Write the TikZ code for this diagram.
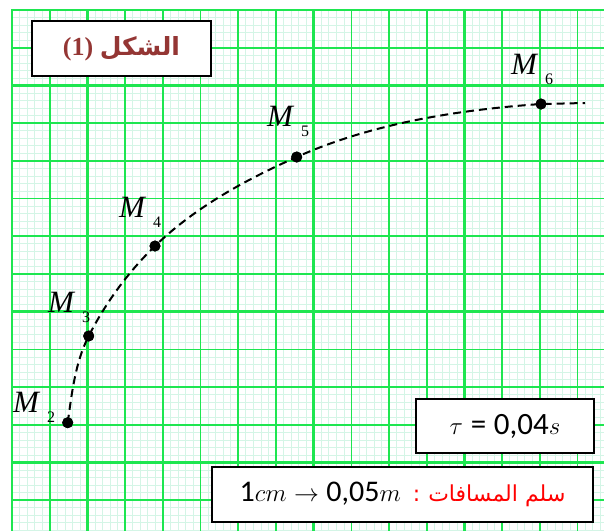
\documentclass[tikz,border=0pt]{standalone}
\usepackage{fontspec}
\setmainfont{Liberation Serif}
\newfontfamily\arabicfont[Script=Arabic]{DejaVu Sans}
\newfontfamily\digitfont{Carlito}
\TeXXeTstate=1
\usetikzlibrary{positioning}

\definecolor{gridmaj}{RGB}{30,230,80}
\definecolor{gridfine}{RGB}{212,245,230}
\definecolor{titlered}{RGB}{148,54,52}

\begin{document}
\begin{tikzpicture}[
  x=1pt, y=-1pt,
  fine/.style={gridfine, line width=0.5pt},
  half/.style={gridmaj, line width=1.6pt},
  full/.style={gridmaj, line width=2.4pt},
  dot/.style={circle, fill=black, inner sep=0pt, minimum size=11pt},
  mlbl/.style={anchor=base west, inner sep=0pt, font=\fontsize{31}{31}\selectfont\itshape},
  txtbox/.style={draw, fill=white, line width=1.5pt, minimum height=55pt, inner sep=0pt},
  traj/.style={line width=2pt, dash pattern=on 8pt off 5pt}
]
\useasboundingbox (0,0) rectangle (604,531);

\begin{scope}
\clip (10.5,8.5) rectangle (604,531);
\foreach \k in {0,...,79} {
  \draw[fine] ({12+\k*7.54},9) -- ({12+\k*7.54},531);
  \draw[fine] (11,{10+\k*7.54}) -- (604,{10+\k*7.54});
}
\foreach \k in {1,3,...,15} {
  \draw[half] ({12+\k*37.7},9) -- ({12+\k*37.7},531);
  \draw[half] (11,{10+\k*37.7}) -- (604,{10+\k*37.7});
}
\foreach \k in {0,...,8} {
  \draw[full] ({12+\k*75.4},9) -- ({12+\k*75.4},531);
  \draw[full] (11,{10+\k*75.4}) -- (604,{10+\k*75.4});
}
\end{scope}

\node[dot] (m2) at (67.7,422.7) {};
\node[dot] (m3) at (88.7,336) {};
\node[dot] (m4) at (155,246) {};
\node[dot] (m5) at (296.7,157) {};
\node[dot] (m6) at (541,104) {};
\coordinate (tail) at (585,103);

\draw[traj] (m2.center) .. controls (71.9,393) and (75.1,362.7) .. (m3.center)
  .. controls (105.5,303) and (128.4,271.7) .. (m4.center)
  .. controls (195.3,207.1) and (245.5,179.8) .. (m5.center)
  .. controls (372.5,123.2) and (458.2,109.8) .. (m6.center) -- (tail);
\foreach \n in {m2,m3,m4,m5,m6} \fill (\n) circle (5.5pt);

\node[mlbl] (l2) at (13,412) {M\hspace{8pt}\raisebox{-10pt}{\upshape\fontsize{16}{16}\selectfont 2}};
\node[mlbl] (l3) at (48,312) {M\hspace{8pt}\raisebox{-10pt}{\upshape\fontsize{16}{16}\selectfont 3}};
\node[mlbl] (l4) at (119,217) {M\hspace{8pt}\raisebox{-10pt}{\upshape\fontsize{16}{16}\selectfont 4}};
\node[mlbl] (l5) at (267,126) {M\hspace{8pt}\raisebox{-10pt}{\upshape\fontsize{16}{16}\selectfont 5}};
\node[mlbl] (l6) at (511,74) {M\hspace{8pt}\raisebox{-10pt}{\upshape\fontsize{16}{16}\selectfont 6}};

\node[txtbox, minimum width=179pt] (title) at (121.5,48.5)
  {\color{titlered}\fontsize{26}{26}\selectfont\bfseries (1) {\arabicfont\bfseries\fontsize{25}{25}\selectfont\beginR الشكل\endR}};
\node[txtbox, minimum width=178pt, minimum height=54pt] (tau) at (505,426)
  {\fontsize{31}{31}\selectfont $\tau$ {\digitfont =} {\digitfont 0,04}$s$};
\node[txtbox, minimum width=381pt] (scale) at (402.5,494.5)
  {\fontsize{30}{30}\selectfont {\digitfont 1}$cm$ $\rightarrow$ {\digitfont 0,05}$m$\hspace{12pt}{\color{red}\fontsize{22}{22}\selectfont\arabicfont :\hspace{8pt}\beginR سلم المسافات\endR}};
\end{tikzpicture}
\end{document}
